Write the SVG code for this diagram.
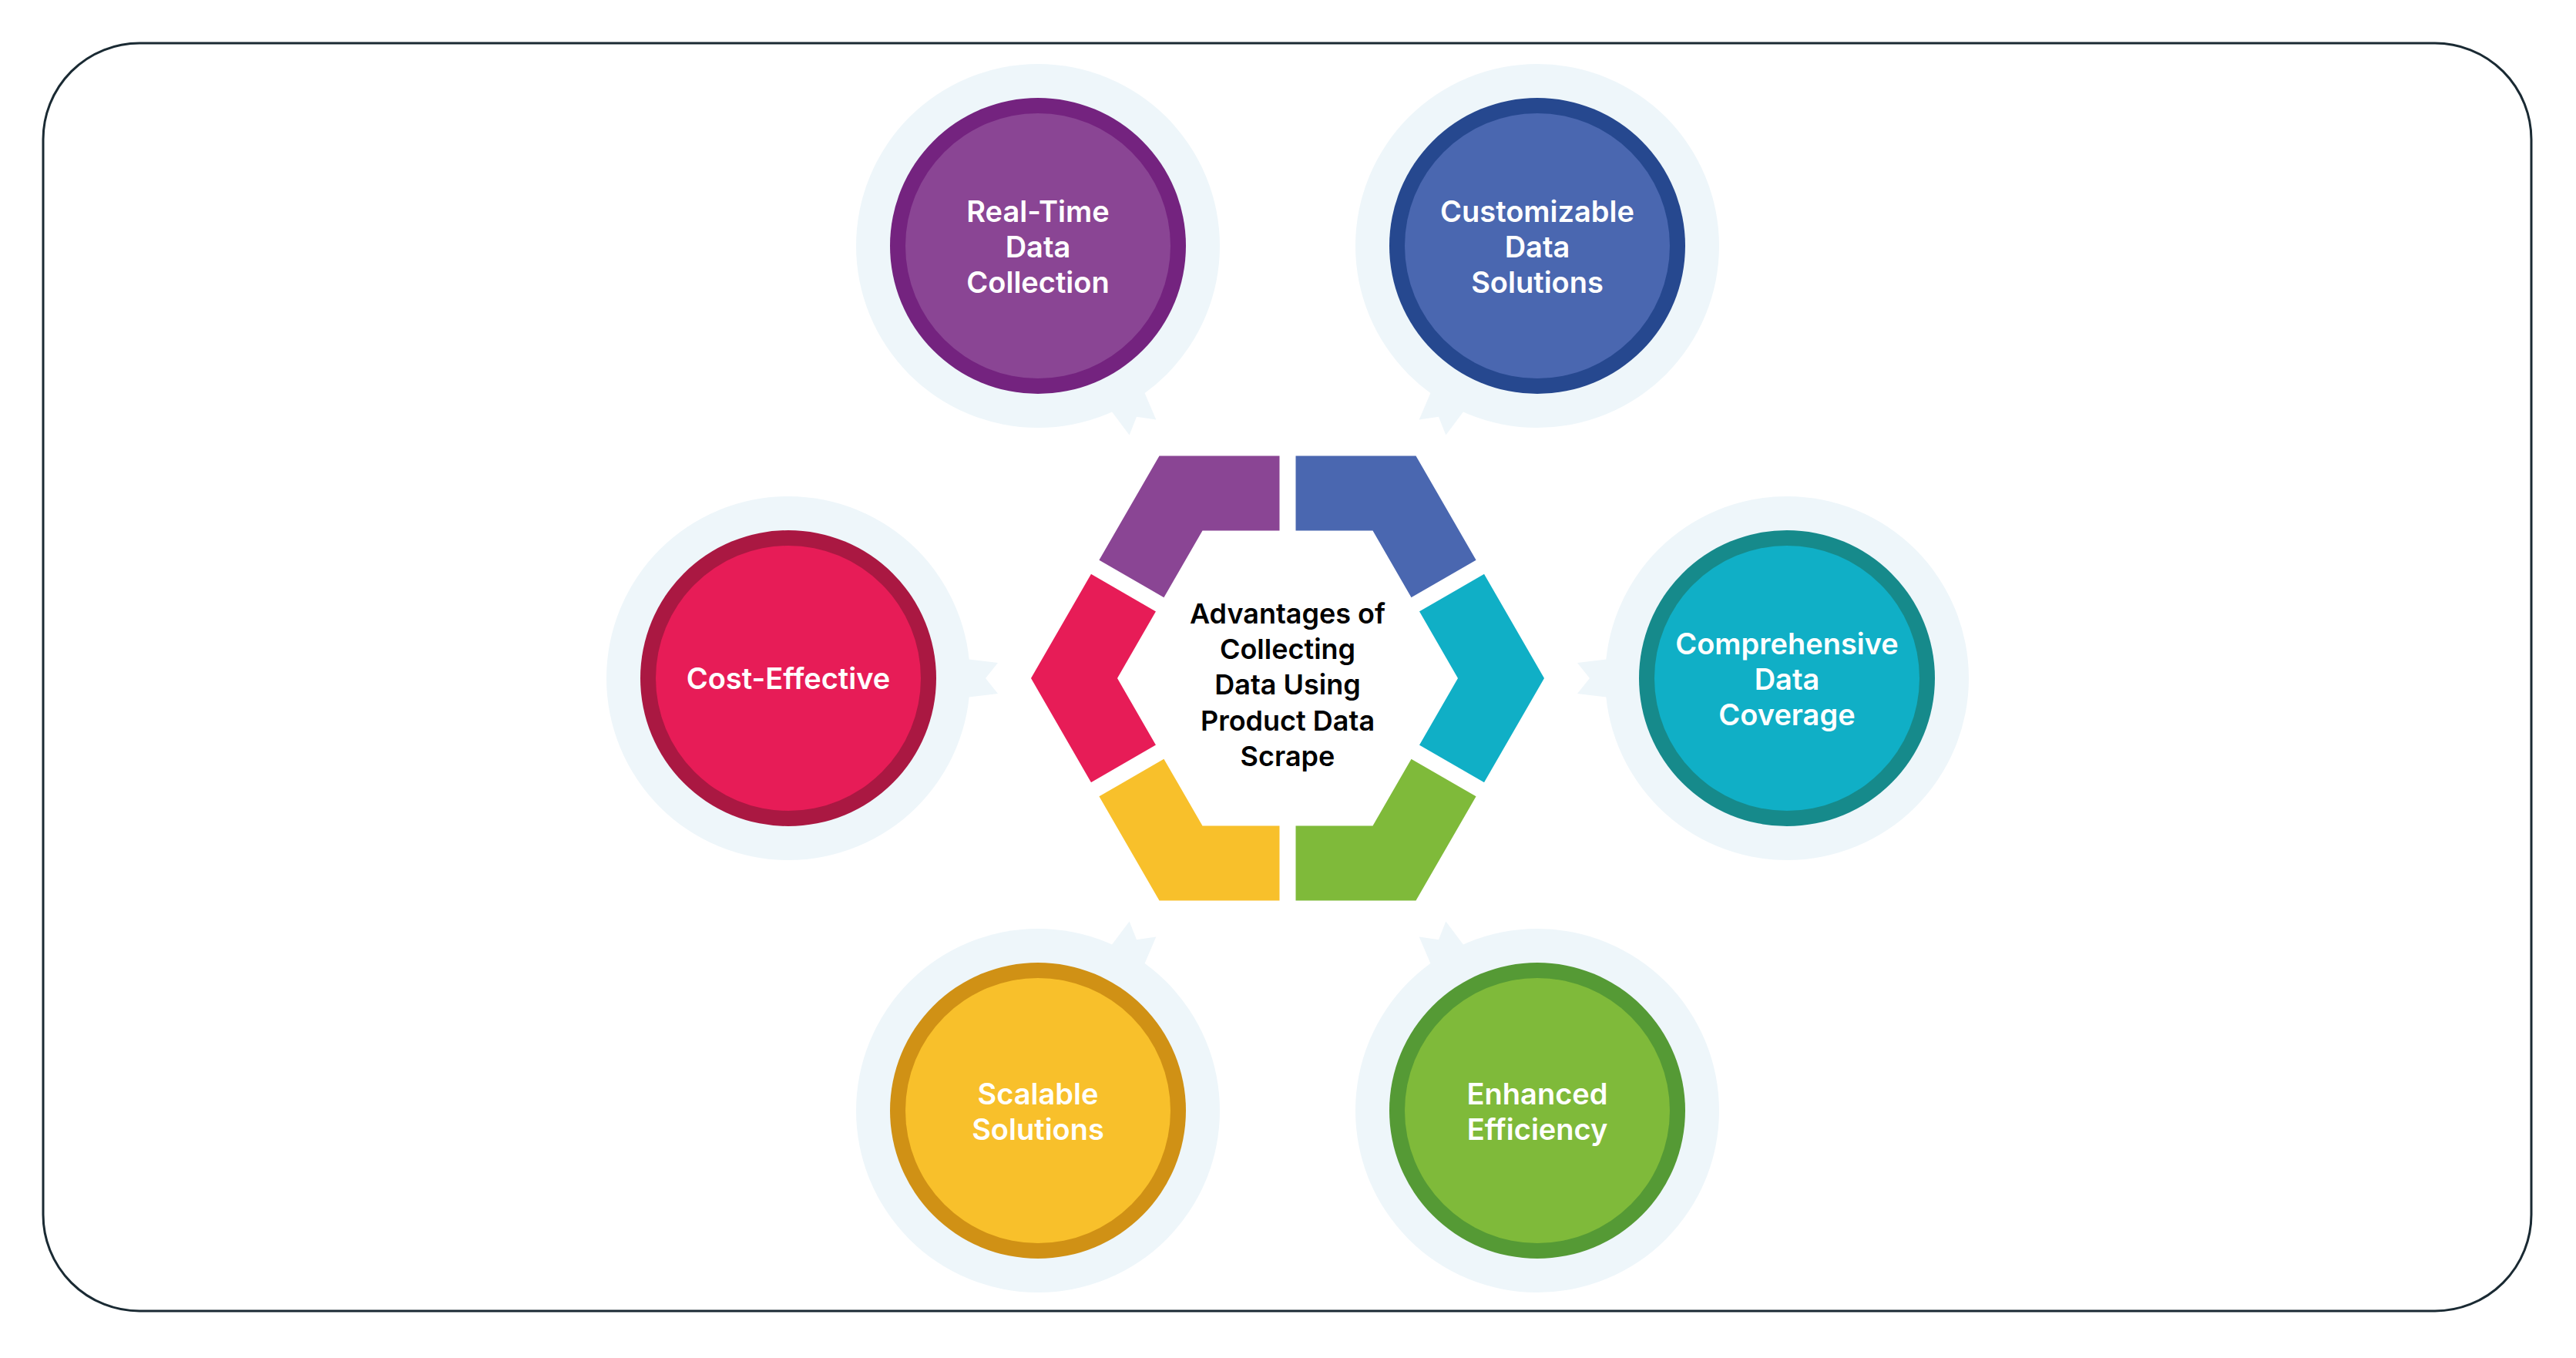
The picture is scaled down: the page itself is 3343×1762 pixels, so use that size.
<svg xmlns="http://www.w3.org/2000/svg" width="3343" height="1762" viewBox="0 0 3343 1762">
<defs>
<style>
.halo{fill:#eef6fa}
.t{font-family:Inter,"Open Sans","Liberation Sans",sans-serif;font-weight:600;font-size:38px;fill:#fff;text-anchor:middle}
.c{font-family:Inter,"Open Sans","Liberation Sans",sans-serif;font-weight:600;font-size:36px;fill:#000;text-anchor:middle}
.gap{stroke:#fff;stroke-width:21}
</style>
<polygon id="tail" points="222,-26 272,-20 256,0 272,20 222,26"/>
</defs>
<rect width="3343" height="1762" fill="#fff"/>
<rect x="56" y="56" width="3229" height="1645" rx="125" fill="none" stroke="#1a2a33" stroke-width="3"/>

<g id="hexagon">
<polygon fill="#8a4594" points="1421.2,735.8 1504.5,591.6 1671,591.6 1671,688.6 1560.5,688.6 1505.2,784.3"/>
<polygon fill="#4a67b0" points="1671,591.6 1837.5,591.6 1920.8,735.8 1836.8,784.3 1781.5,688.6 1671,688.6"/>
<polygon fill="#10afc6" points="1920.8,735.8 2004,880 1920.8,1024.2 1836.8,975.7 1892,880 1836.8,784.3"/>
<polygon fill="#7fba3a" points="1920.8,1024.2 1837.5,1168.4 1671,1168.4 1671,1071.4 1781.5,1071.4 1836.8,975.7"/>
<polygon fill="#f8c02b" points="1671,1168.4 1504.5,1168.4 1421.2,1024.2 1505.2,975.7 1560.5,1071.4 1671,1071.4"/>
<polygon fill="#e71c57" points="1421.2,1024.2 1338,880 1421.2,735.8 1505.2,784.3 1450,880 1505.2,975.7"/>
<g class="gap">
<line x1="1671" y1="880" x2="1965.4" y2="710"/>
<line x1="1671" y1="880" x2="1671" y2="540"/>
<line x1="1671" y1="880" x2="1376.6" y2="710"/>
<line x1="1671" y1="880" x2="1376.6" y2="1050"/>
<line x1="1671" y1="880" x2="1671" y2="1220"/>
<line x1="1671" y1="880" x2="1965.4" y2="1050"/>
</g>
<text class="c"><tspan x="1671" y="809">Advantages of</tspan><tspan x="1671" y="855">Collecting</tspan><tspan x="1671" y="901">Data Using</tspan><tspan x="1671" y="948">Product Data</tspan><tspan x="1671" y="994">Scrape</tspan></text>
</g>

<g id="connectors"></g>

<g id="node-realtime" transform="translate(1347,319)">
<use href="#tail" class="halo" transform="rotate(60)"/>
<circle r="236" class="halo"/>
<circle r="192" fill="#74237f"/><circle r="172" fill="#8a4594"/>
<text class="t"><tspan x="0" y="-31">Real-Time</tspan><tspan x="0" y="15">Data</tspan><tspan x="0" y="61">Collection</tspan></text>
</g>
<g id="node-custom" transform="translate(1995,319)">
<use href="#tail" class="halo" transform="rotate(120)"/>
<circle r="236" class="halo"/>
<circle r="192" fill="#26488f"/><circle r="172" fill="#4a67b0"/>
<text class="t"><tspan x="0" y="-31">Customizable</tspan><tspan x="0" y="15">Data</tspan><tspan x="0" y="61">Solutions</tspan></text>
</g>
<g id="node-comprehensive" transform="translate(2319,880)">
<use href="#tail" class="halo" transform="rotate(180)"/>
<circle r="236" class="halo"/>
<circle r="192" fill="#168a8b"/><circle r="172" fill="#10afc6"/>
<text class="t"><tspan x="0" y="-31">Comprehensive</tspan><tspan x="0" y="15">Data</tspan><tspan x="0" y="61">Coverage</tspan></text>
</g>
<g id="node-enhanced" transform="translate(1995,1441)">
<use href="#tail" class="halo" transform="rotate(240)"/>
<circle r="236" class="halo"/>
<circle r="192" fill="#559a35"/><circle r="172" fill="#7fba3a"/>
<text class="t"><tspan x="0" y="-8">Enhanced</tspan><tspan x="0" y="38">Efficiency</tspan></text>
</g>
<g id="node-scalable" transform="translate(1347,1441)">
<use href="#tail" class="halo" transform="rotate(300)"/>
<circle r="236" class="halo"/>
<circle r="192" fill="#d09115"/><circle r="172" fill="#f8c02b"/>
<text class="t"><tspan x="0" y="-8">Scalable</tspan><tspan x="0" y="38">Solutions</tspan></text>
</g>
<g id="node-cost" transform="translate(1023,880)">
<use href="#tail" class="halo"/>
<circle r="236" class="halo"/>
<circle r="192" fill="#aa1842"/><circle r="172" fill="#e71c57"/>
<text class="t"><tspan x="0" y="14">Cost-Effective</tspan></text>
</g>
</svg>
